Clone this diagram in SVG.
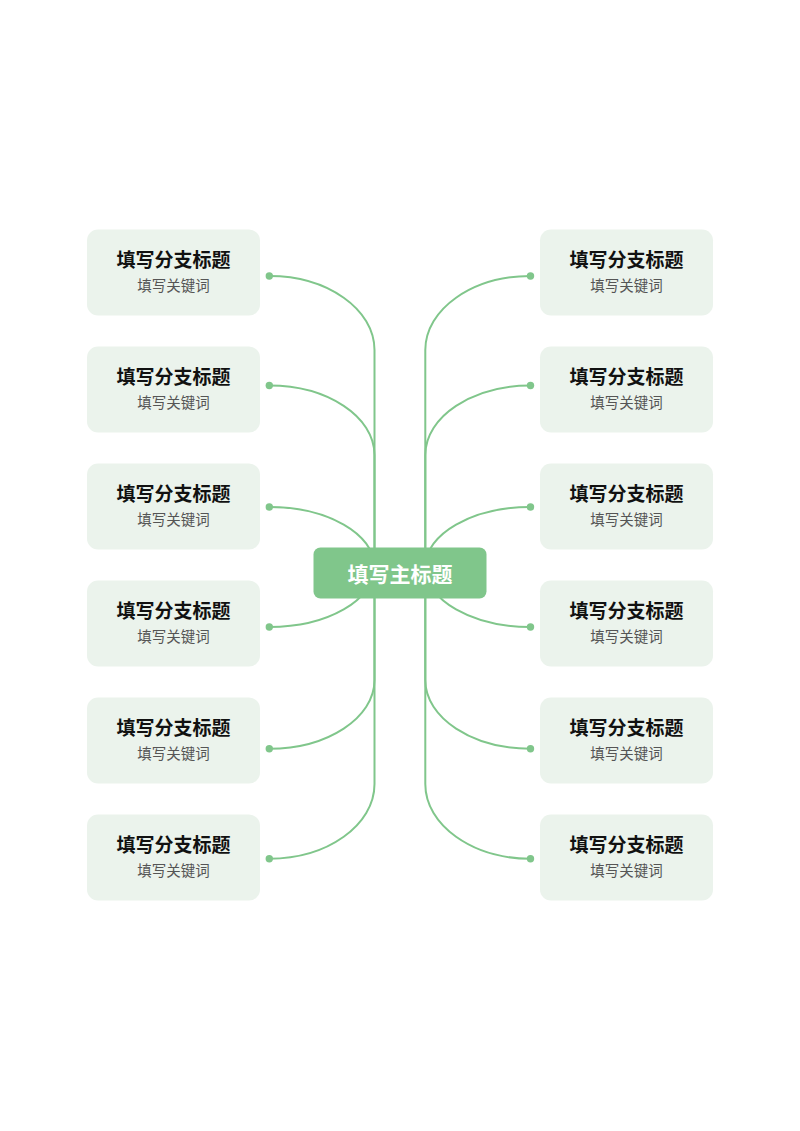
<svg xmlns="http://www.w3.org/2000/svg" width="800" height="1131" viewBox="0 0 800 1131">
<style>
.bg{fill:#ffffff}
.box{fill:#ebf3ec}
.con{fill:none;stroke:#80c68b;stroke-width:2;stroke-linecap:round}
.dot{fill:#80c68b}
.t{font-family:"Noto Sans CJK SC","Noto Sans",sans-serif;font-weight:bold;font-size:19px;fill:#111111;text-anchor:middle}
.k{font-family:"Noto Sans CJK SC","Noto Sans",sans-serif;font-size:14.5px;fill:#555555;text-anchor:middle}
.main{fill:#80c68b}
.mt{font-family:"Noto Sans CJK SC","Noto Sans",sans-serif;font-weight:bold;font-size:21px;fill:#ffffff;text-anchor:middle}
</style>
<rect class="bg" x="0" y="0" width="800" height="1131"/>
<g id="connectors">
<path class="con" d="M269.3,276 C327.5,276 374.5,309.2 374.5,350 L374.5,567"/>
<path class="con" d="M269.3,385.5 C327.5,385.5 374.5,416.6 374.5,455 L374.5,567"/>
<path class="con" d="M269.3,507 C327.5,507 374.5,533.9 374.5,567"/>
<path class="con" d="M269.3,627 C327.5,627 374.5,600.1 374.5,567"/>
<path class="con" d="M269.3,748.7 C327.5,748.7 374.5,717.9 374.5,680 L374.5,567"/>
<path class="con" d="M269.3,858.7 C327.5,858.7 374.5,825.2 374.5,784 L374.5,567"/>
<path class="con" d="M530.5,276 C472.3,276 425.3,309.2 425.3,350 L425.3,567"/>
<path class="con" d="M530.5,385.5 C472.3,385.5 425.3,416.6 425.3,455 L425.3,567"/>
<path class="con" d="M530.5,507 C472.3,507 425.3,533.9 425.3,567"/>
<path class="con" d="M530.5,627 C472.3,627 425.3,600.1 425.3,567"/>
<path class="con" d="M530.5,748.7 C472.3,748.7 425.3,717.9 425.3,680 L425.3,567"/>
<path class="con" d="M530.5,858.7 C472.3,858.7 425.3,825.2 425.3,784 L425.3,567"/>
<circle class="dot" cx="269.3" cy="276" r="3.7"/>
<circle class="dot" cx="269.3" cy="385.5" r="3.7"/>
<circle class="dot" cx="269.3" cy="507" r="3.7"/>
<circle class="dot" cx="269.3" cy="627" r="3.7"/>
<circle class="dot" cx="269.3" cy="748.7" r="3.7"/>
<circle class="dot" cx="269.3" cy="858.7" r="3.7"/>
<circle class="dot" cx="530.5" cy="276" r="3.7"/>
<circle class="dot" cx="530.5" cy="385.5" r="3.7"/>
<circle class="dot" cx="530.5" cy="507" r="3.7"/>
<circle class="dot" cx="530.5" cy="627" r="3.7"/>
<circle class="dot" cx="530.5" cy="748.7" r="3.7"/>
<circle class="dot" cx="530.5" cy="858.7" r="3.7"/>
</g>
<g id="main">
<rect class="main" x="313.5" y="547.5" width="173" height="51" rx="7"/>
<text class="mt" x="400" y="581.5">填写主标题</text>
</g>
<g id="L1"><rect class="box" x="87" y="229.5" width="173" height="86" rx="11"/><text class="t" x="173.5" y="267">填写分支标题</text><text class="k" x="173.5" y="290.5">填写关键词</text></g>
<g id="L2"><rect class="box" x="87" y="346.5" width="173" height="86" rx="11"/><text class="t" x="173.5" y="384">填写分支标题</text><text class="k" x="173.5" y="407.5">填写关键词</text></g>
<g id="L3"><rect class="box" x="87" y="463.5" width="173" height="86" rx="11"/><text class="t" x="173.5" y="501">填写分支标题</text><text class="k" x="173.5" y="524.5">填写关键词</text></g>
<g id="L4"><rect class="box" x="87" y="580.5" width="173" height="86" rx="11"/><text class="t" x="173.5" y="618">填写分支标题</text><text class="k" x="173.5" y="641.5">填写关键词</text></g>
<g id="L5"><rect class="box" x="87" y="697.5" width="173" height="86" rx="11"/><text class="t" x="173.5" y="735">填写分支标题</text><text class="k" x="173.5" y="758.5">填写关键词</text></g>
<g id="L6"><rect class="box" x="87" y="814.5" width="173" height="86" rx="11"/><text class="t" x="173.5" y="852">填写分支标题</text><text class="k" x="173.5" y="875.5">填写关键词</text></g>
<g id="R1"><rect class="box" x="540" y="229.5" width="173" height="86" rx="11"/><text class="t" x="626.5" y="267">填写分支标题</text><text class="k" x="626.5" y="290.5">填写关键词</text></g>
<g id="R2"><rect class="box" x="540" y="346.5" width="173" height="86" rx="11"/><text class="t" x="626.5" y="384">填写分支标题</text><text class="k" x="626.5" y="407.5">填写关键词</text></g>
<g id="R3"><rect class="box" x="540" y="463.5" width="173" height="86" rx="11"/><text class="t" x="626.5" y="501">填写分支标题</text><text class="k" x="626.5" y="524.5">填写关键词</text></g>
<g id="R4"><rect class="box" x="540" y="580.5" width="173" height="86" rx="11"/><text class="t" x="626.5" y="618">填写分支标题</text><text class="k" x="626.5" y="641.5">填写关键词</text></g>
<g id="R5"><rect class="box" x="540" y="697.5" width="173" height="86" rx="11"/><text class="t" x="626.5" y="735">填写分支标题</text><text class="k" x="626.5" y="758.5">填写关键词</text></g>
<g id="R6"><rect class="box" x="540" y="814.5" width="173" height="86" rx="11"/><text class="t" x="626.5" y="852">填写分支标题</text><text class="k" x="626.5" y="875.5">填写关键词</text></g>
</svg>
